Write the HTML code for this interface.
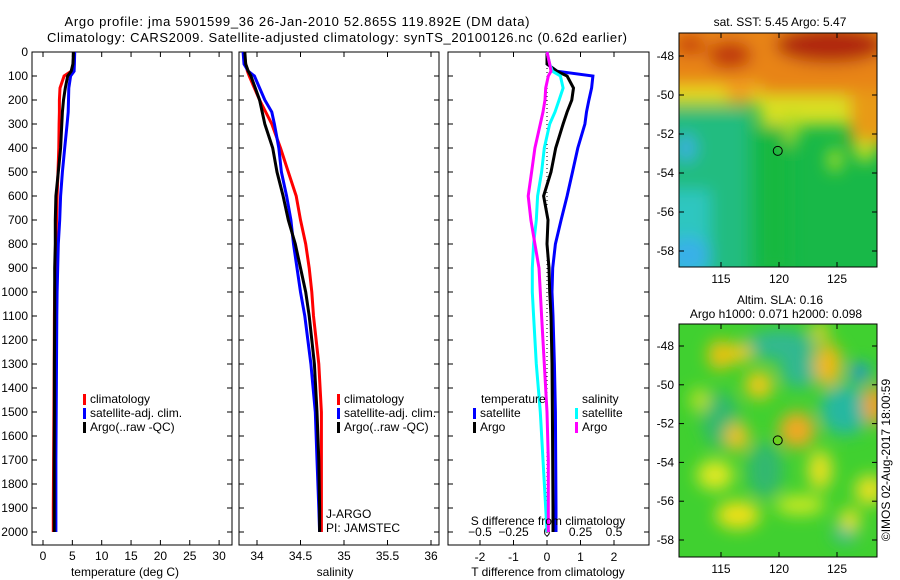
<!DOCTYPE html>
<html><head><meta charset="utf-8">
<style>
html,body{margin:0;padding:0;background:#fff;}
svg{display:block;font-family:"Liberation Sans",sans-serif;}
text{font-size:12px;fill:#000;}
</style></head>
<body>
<svg id="c" width="900" height="580" viewBox="0 0 900 580">
<defs>
<filter id="bl" x="-20%" y="-20%" width="140%" height="140%"><feGaussianBlur stdDeviation="8"/></filter>
<clipPath id="m1c"><rect x="679" y="33" width="198" height="234"/></clipPath>
<clipPath id="m2c"><rect x="679" y="324" width="198" height="233"/></clipPath>
</defs>
<text x="297" y="26" text-anchor="middle" style="font-size:13px" textLength="465">Argo profile: jma 5901599_36 26-Jan-2010 52.865S 119.892E (DM data)</text>
<text x="337" y="42" text-anchor="middle" style="font-size:13px" textLength="580">Climatology: CARS2009. Satellite-adjusted climatology: synTS_20100126.nc (0.62d earlier)</text>

<!-- map 1 -->
<g>
<g clip-path="url(#m1c)">
<rect x="679" y="33" width="198" height="234" fill="#18b848"/>
<g filter="url(#bl)">
<rect x="640" y="110" width="110" height="190" fill="#22bc80"/>
<rect x="640" y="190" width="70" height="100" fill="#2ec6c0"/>
<ellipse cx="688" cy="255" rx="22" ry="18" fill="#38b0e8"/>
<ellipse cx="686" cy="148" rx="10" ry="14" fill="#3ab0e0"/>
<rect x="760" y="100" width="30" height="170" fill="#18b840"/>
<rect x="640" y="10" width="280" height="90" fill="#e88418"/>
<rect x="640" y="85" width="120" height="20" fill="#e8d820"/>
<rect x="760" y="95" width="140" height="30" fill="#d8e020"/>
<rect x="850" y="90" width="50" height="55" fill="#e89a18"/>
<ellipse cx="740" cy="93" rx="14" ry="12" fill="#f0a020"/>
<ellipse cx="830" cy="45" rx="55" ry="18" fill="#b02808"/>
<ellipse cx="730" cy="55" rx="22" ry="14" fill="#c03808"/>
<ellipse cx="690" cy="45" rx="15" ry="10" fill="#c84010"/>
<ellipse cx="792" cy="130" rx="7" ry="16" fill="#a0d828"/>
<ellipse cx="835" cy="160" rx="7" ry="12" fill="#b0e020"/>
<ellipse cx="865" cy="150" rx="10" ry="12" fill="#c8e020"/>
</g></g>
<rect x="679" y="33" width="198" height="234" fill="none" stroke="#000"/>
</g>
<!-- map 2 -->
<g>
<g clip-path="url(#m2c)">
<rect x="679" y="324" width="198" height="233" fill="#40d030"/>
<g filter="url(#bl)">
<ellipse cx="780" cy="345" rx="35" ry="15" fill="#30b890"/>
<ellipse cx="800" cy="370" rx="20" ry="18" fill="#30b890"/>
<ellipse cx="845" cy="410" rx="25" ry="25" fill="#28b8a0"/>
<ellipse cx="860" cy="372" rx="10" ry="9" fill="#2090e0"/>
<ellipse cx="845" cy="533" rx="12" ry="10" fill="#28b8a0"/>
<ellipse cx="720" cy="420" rx="18" ry="28" fill="#30b870"/>
<ellipse cx="765" cy="470" rx="18" ry="28" fill="#30b870"/>
<ellipse cx="720" cy="355" rx="12" ry="15" fill="#f0c010"/>
<ellipse cx="828" cy="365" rx="14" ry="22" fill="#f0b818"/>
<ellipse cx="820" cy="332" rx="8" ry="10" fill="#e8d020"/>
<ellipse cx="759" cy="385" rx="14" ry="14" fill="#f0c818"/>
<ellipse cx="740" cy="353" rx="12" ry="10" fill="#f0c818"/>
<ellipse cx="797" cy="430" rx="18" ry="18" fill="#f0a820"/>
<ellipse cx="737" cy="437" rx="12" ry="14" fill="#f0c020"/>
<ellipse cx="875" cy="405" rx="12" ry="20" fill="#f0a010"/>
<ellipse cx="870" cy="490" rx="15" ry="15" fill="#e8e020"/>
<ellipse cx="715" cy="475" rx="18" ry="15" fill="#e0e820"/>
<ellipse cx="738" cy="515" rx="22" ry="14" fill="#f0e018"/>
<ellipse cx="800" cy="505" rx="25" ry="10" fill="#c8e820"/>
<ellipse cx="820" cy="470" rx="12" ry="20" fill="#e8e020"/>
<ellipse cx="850" cy="520" rx="10" ry="12" fill="#e8e020"/>
<ellipse cx="700" cy="400" rx="10" ry="12" fill="#b8e020"/>
</g></g>
<rect x="679" y="324" width="198" height="233" fill="none" stroke="#000"/>
</g>
<g id="gfx"></g>
</svg>
<script>
// ---------- data ----------
const depthLevels=[0,50,80,100,150,200,250,300,400,500,600,700,800,900,1000,1100,1300,1500,1700,1900,2000];
const tempClim=[5.3,5.2,4.8,3.6,2.9,2.8,2.8,2.75,2.7,2.55,2.4,2.3,2.2,2.1,2.0,1.95,1.9,1.85,1.8,1.75,1.75];
const tempSat=[5.4,5.35,5.3,4.7,4.4,4.35,4.3,4.1,3.7,3.3,3.0,2.85,2.6,2.5,2.4,2.35,2.3,2.25,2.2,2.2,2.2];
const tempArgo=[5.2,5.1,4.8,4.2,3.8,3.5,3.3,3.2,3.0,2.6,2.2,2.1,2.1,2.0,2.0,2.0,1.95,1.95,1.9,1.9,1.9];
const salClim=[33.85,33.87,33.89,33.91,33.97,34.03,34.1,34.17,34.27,34.36,34.45,34.5,34.56,34.6,34.63,34.65,34.71,34.74,34.74,34.74,34.74];
const salSat=[33.84,33.85,33.9,33.97,34.03,34.09,34.17,34.2,34.25,34.28,34.34,34.39,34.42,34.46,34.5,34.55,34.62,34.67,34.69,34.71,34.72];
const salArgo=[33.86,33.87,33.9,33.93,33.98,34.03,34.06,34.09,34.18,34.23,34.3,34.36,34.44,34.5,34.56,34.6,34.66,34.69,34.71,34.72,34.72];
const dTSat=[0,0,0.3,1.37,1.33,1.25,1.18,1.13,0.92,0.76,0.6,0.42,0.25,0.17,0.15,0.18,0.22,0.25,0.26,0.27,0.27];
const dTArgo=[0,0,0.3,0.6,0.79,0.74,0.6,0.48,0.26,0.12,-0.1,0.03,0.0,0.06,0.08,0.12,0.15,0.16,0.17,0.18,0.18];
const dSSat=[0,0.02,0.04,0.1,0.12,0.09,0.06,0.02,-0.02,-0.04,-0.07,-0.08,-0.1,-0.11,-0.11,-0.1,-0.08,-0.05,-0.03,-0.01,0];
const dSArgo=[0,0.02,0.03,0.01,-0.01,-0.015,-0.03,-0.05,-0.09,-0.115,-0.14,-0.12,-0.09,-0.06,-0.05,-0.04,-0.02,0,0.01,0.01,0.01];
const depthTicks=[0,100,200,300,400,500,600,700,800,900,1000,1100,1200,1300,1400,1500,1600,1700,1800,1900,2000];
const tempTicks=[0,5,10,15,20,25,30];
const salTicks=[34,34.5,35,35.5,36];
const salTickLabels=["34","34.5","35","35.5","36"];
const dTTicks=[-2,-1,0,1,2];
const dSTicks=[-0.5,-0.25,0,0.25,0.5];
const latTicks=[-48,-50,-52,-54,-56,-58];
const lonTicks=[115,120,125];
const argoLon=119.892, argoLat=-52.865;

// ---------- axes ----------
const yD=d=>52+d*0.24;
const xT=t=>43+t*5.87;
const xS=s=>257+(s-34)*87;
const xDT=v=>547+v*33.5;
const xDS=v=>547+v*134;
const lonX=l=>779+(l-120)*11.6;
const lat1Y=l=>56+(-48-l)*19.5;
const lat2Y=l=>346+(-48-l)*19.4;

const NS='http://www.w3.org/2000/svg';
const g=document.getElementById('gfx');
function mk(tag,at,parent){const e=document.createElementNS(NS,tag);for(const k in at)e.setAttribute(k,at[k]);(parent||g).appendChild(e);return e;}
function txt(x,y,s,anchor,parent){const e=mk('text',{x:x,y:y,'text-anchor':anchor||'start'},parent);e.textContent=s;return e;}

function panel(name,x0,x1){
  const p=mk('g',{});
  
  
  const r=mk('rect',{x:x0,y:52,width:x1-x0,height:493,fill:'none',stroke:'#000'},p);
  
  
  depthTicks.forEach(d=>{mk('line',{x1:x0,x2:x0+5,y1:yD(d),y2:yD(d),stroke:'#000'},p);mk('line',{x1:x1-5,x2:x1,y1:yD(d),y2:yD(d),stroke:'#000'},p);});
  return p;
}
function xticks(p,vals,fx,labels,ly){
  vals.forEach((v,i)=>{const x=fx(v);mk('line',{x1:x,x2:x,y1:52,y2:57,stroke:'#000'},p);mk('line',{x1:x,x2:x,y1:540,y2:545,stroke:'#000'},p);
    if(labels){const t=txt(x,ly,labels[i],'middle',p);}});
}
function line(p,vals,fx,color,name){
  const pts=depthLevels.map((d,i)=>fx(vals[i]).toFixed(1)+','+yD(d).toFixed(1)).join(' ');
  const e=mk('polyline',{points:pts,fill:'none',stroke:color,'stroke-width':3,'stroke-linejoin':'miter'},p);
  
  
}
function legend(p,x,y,items){
  items.forEach((it,i)=>{mk('rect',{x:x,y:y+i*14-9,width:3,height:11,fill:it[0]},p);const t=txt(x+7,y+i*14,it[1],'start',p);
    });
}

// panel 1
const p1=panel('temperature-panel',32,232);
depthTicks.forEach(d=>{const t=txt(28,yD(d)+4,String(d),'end',p1);});
xticks(p1,tempTicks,xT,tempTicks.map(String),560);
line(p1,tempClim,xT,'#ff0000','temp-climatology-line');
line(p1,tempSat,xT,'#0000ff','temp-satellite-line');
line(p1,tempArgo,xT,'#000000','temp-argo-line');
legend(p1,83,403,[['#f00','climatology'],['#00f','satellite-adj. clim.'],['#000','Argo(..raw -QC)']]);
let t=txt(125,576,'temperature (deg C)','middle',p1);

// panel 2
const p2=panel('salinity-panel',239,439);
xticks(p2,salTicks,xS,salTickLabels,560);
line(p2,salClim,xS,'#ff0000','sal-climatology-line');
line(p2,salSat,xS,'#0000ff','sal-satellite-line');
line(p2,salArgo,xS,'#000000','sal-argo-line');
legend(p2,337,403,[['#f00','climatology'],['#00f','satellite-adj. clim.'],['#000','Argo(..raw -QC)']]);
t=txt(335,576,'salinity','middle',p2);
t=txt(326,518,'J-ARGO','start',p2);
t=txt(326,532,'PI: JAMSTEC','start',p2);

// panel 3
const p3=panel('difference-panel',448,649);
xticks(p3,dTTicks,xDT,dTTicks.map(String),561);
dSTicks.forEach(v=>{const tt=txt(xDS(v),536,String(v).replace('-','\u2212'),'middle',p3);});
mk('line',{x1:xDT(0),x2:xDT(0),y1:52,y2:545,stroke:'#000','stroke-dasharray':'1,3'},p3);
line(p3,dTSat,xDT,'#0000ff','dT-satellite-line');
line(p3,dTArgo,xDT,'#000000','dT-argo-line');
line(p3,dSSat,xDS,'#00ffff','dS-satellite-line');
line(p3,dSArgo,xDS,'#ff00ff','dS-argo-line');
t=txt(481,403,'temperature','start',p3);
t=txt(582,403,'salinity','start',p3);
legend(p3,473,417,[['#00f','satellite'],['#000','Argo']]);
legend(p3,575,417,[['#0ff','satellite'],['#f0f','Argo']]);
t=txt(548,525,'S difference from climatology','middle',p3);
t=txt(548,576,'T difference from climatology','middle',p3);

// maps axes
function mapAxes(name,y0,y1,latY){
  const m=mk('g',{});
  
  
  latTicks.forEach(l=>{const y=latY(l);mk('line',{x1:679,x2:684,y1:y,y2:y,stroke:'#000'},m);mk('line',{x1:872,x2:877,y1:y,y2:y,stroke:'#000'},m);
    const tt=txt(674,y+4,String(l),'end',m);});
  lonTicks.forEach(l=>{const x=lonX(l);mk('line',{x1:x,x2:x,y1:y0,y2:y0+5,stroke:'#000'},m);mk('line',{x1:x,x2:x,y1:y1-5,y2:y1,stroke:'#000'},m);
    const tt=txt(x,y1+16,String(l),'middle',m);});
  return m;
}
const m1=mapAxes('sst-map-axes',33,267,lat1Y);
let c=mk('circle',{cx:lonX(argoLon),cy:lat1Y(argoLat),r:4.5,fill:'none',stroke:'#000'},m1);

const m2=mapAxes('sla-map-axes',324,557,lat2Y);
c=mk('circle',{cx:lonX(argoLon),cy:lat2Y(argoLat),r:4.5,fill:'#6cd020',stroke:'#000'},m2);

t=txt(780,26,'sat. SST: 5.45 Argo: 5.47','middle');
t=txt(780,304,'Altim. SLA: 0.16','middle');
t=txt(776,318,'Argo h1000: 0.071 h2000: 0.098','middle');
t=txt(0,0,'\u00a9IMOS 02-Aug-2017 18:00:59','middle');t.setAttribute('transform','translate(890,460) rotate(-90)');

</script>
</body></html>
